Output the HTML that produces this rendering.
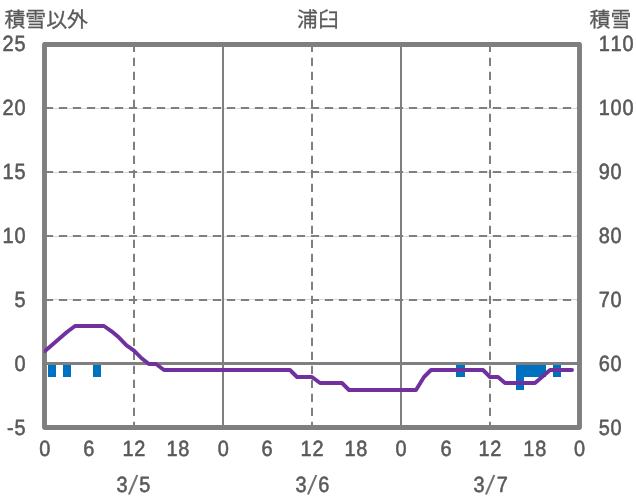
<!DOCTYPE html>
<html lang="ja">
<head>
<meta charset="utf-8">
<title>浦臼</title>
<style>
html,body{margin:0;padding:0;background:#fff;}
body{width:636px;height:501px;overflow:hidden;}
svg{display:block;}
text{text-rendering:geometricPrecision;font-kerning:none;font-family:"Liberation Sans", "Noto Sans CJK JP", sans-serif;font-size:21.33px;fill:#595959;stroke:#595959;stroke-width:0.55px;stroke-linejoin:round;}
.cjk{font-family:"Liberation Sans", "Noto Sans CJK JP", sans-serif;}
text.c{stroke-width:0.3px;text-rendering:auto;}
.sl{stroke-width:0;fill-opacity:0.85;}
</style>
</head>
<body>
<svg width="636" height="501" viewBox="0 0 636 501">
<defs><clipPath id="pc"><rect x="44" y="40" width="540" height="392"/></clipPath></defs>
<rect x="0" y="0" width="636" height="501" fill="#ffffff"/>

<g stroke="#d9d9d9" stroke-width="1" fill="none">
<line x1="44.5" y1="108.5" x2="579.5" y2="108.5"/>
<line x1="44.5" y1="172.5" x2="579.5" y2="172.5"/>
<line x1="44.5" y1="236.5" x2="579.5" y2="236.5"/>
<line x1="44.5" y1="299.5" x2="579.5" y2="299.5"/>
</g>
<g stroke="#7f7f7f" stroke-width="2" fill="none" stroke-dasharray="8.2 5.8">
<line x1="44.9" y1="108" x2="579.5" y2="108"/>
<line x1="44.9" y1="172" x2="579.5" y2="172"/>
<line x1="44.9" y1="236" x2="579.5" y2="236"/>
<line x1="44.9" y1="300" x2="579.5" y2="300"/>
<line x1="134" y1="43.8" x2="134" y2="427.3"/>
<line x1="312" y1="43.8" x2="312" y2="427.3"/>
<line x1="490" y1="43.8" x2="490" y2="427.3"/>
</g>
<g stroke="#7f7f7f" stroke-width="2" fill="none">
<line x1="223" y1="44.4" x2="223" y2="427.3"/>
<line x1="401" y1="44.4" x2="401" y2="427.3"/>
</g>
<g fill="#0070c0"><rect x="48" y="363" width="8" height="14"/><rect x="63" y="363" width="8" height="14"/><rect x="93" y="363" width="8" height="14"/><rect x="456" y="363" width="9" height="14"/><rect x="516" y="363" width="8" height="27"/><rect x="524" y="363" width="22" height="14"/><rect x="553" y="363" width="8" height="14"/></g>
<line x1="44.5" y1="363.48" x2="579.5" y2="363.48" stroke="#7f7f7f" stroke-width="2.8"/>
<rect x="44.5" y="44.5" width="535" height="383" fill="none" stroke="#7f7f7f" stroke-width="4.9" stroke-linejoin="round"/>
<polyline points="45,351 52,345 60,338 67,332 75,326 82,326 89,326 97,326 104,326 111.6,331.3 119,337.6 126.5,345.3 134,350.6 141.3,358 148.9,364 156,364 164,370 171,370 178,370 186,370 193,370 201,370 208,370 216,370 223,370 230,370 238,370 245,370 253,370 260,370 268,370 275,370 282,370 290,370 297,377 305,377 312,377 320,383 327,383 334,383 342,383 349,390 357,390 364,390 372,390 379,390 386,390 394,390 401,390 409,390 416,390 424,377 431,370 438,370 446,370 453,370 461,370 468,370 476,370 483,370 490,377 498,377 505,383 513,383 520,383 528,383 535,383 542,377 550,370 557,370 565,370 572,370" fill="none" stroke="#7030a0" stroke-width="3.9" stroke-linejoin="round" stroke-linecap="round" clip-path="url(#pc)"/>
<text class="c" transform="translate(4.4,27) scale(0.98,0.975)" text-anchor="start">積雪以外</text>
<text class="c" transform="translate(318.0,27) scale(0.98,0.975)" text-anchor="middle">浦臼</text>
<text class="c" transform="translate(631.3,27) scale(0.98,0.975)" text-anchor="end">積雪</text>
<text class="n" transform="translate(26.30,51.00) scale(0.935,1.03)" text-anchor="end" style="letter-spacing:0.8px">25</text>
<text class="n" transform="translate(26.30,115.00) scale(0.935,1.03)" text-anchor="end" style="letter-spacing:0.8px">20</text>
<text class="n" transform="translate(26.30,179.00) scale(0.935,1.03)" text-anchor="end" style="letter-spacing:0.8px">15</text>
<text class="n" transform="translate(26.30,243.00) scale(0.935,1.03)" text-anchor="end" style="letter-spacing:0.8px">10</text>
<text class="n" transform="translate(25.55,307.00) scale(0.935,1.03)" text-anchor="end">5</text>
<text class="n" transform="translate(25.55,371.00) scale(0.935,1.03)" text-anchor="end">0</text>
<text class="n" transform="translate(26.30,435.00) scale(0.935,1.03)" text-anchor="end" style="letter-spacing:0.8px">-5</text>
<text class="n" transform="translate(598.70,51.00) scale(0.935,1.03)" text-anchor="start" style="letter-spacing:0.8px">110</text>
<text class="n" transform="translate(598.70,115.00) scale(0.935,1.03)" text-anchor="start" style="letter-spacing:0.8px">100</text>
<text class="n" transform="translate(598.70,179.00) scale(0.935,1.03)" text-anchor="start" style="letter-spacing:0.8px">90</text>
<text class="n" transform="translate(598.70,243.00) scale(0.935,1.03)" text-anchor="start" style="letter-spacing:0.8px">80</text>
<text class="n" transform="translate(598.70,307.00) scale(0.935,1.03)" text-anchor="start" style="letter-spacing:0.8px">70</text>
<text class="n" transform="translate(598.70,371.00) scale(0.935,1.03)" text-anchor="start" style="letter-spacing:0.8px">60</text>
<text class="n" transform="translate(598.70,435.00) scale(0.935,1.03)" text-anchor="start" style="letter-spacing:0.8px">50</text>
<text class="n" transform="translate(44.90,456.00) scale(0.935,1.03)" text-anchor="middle">0</text>
<text class="n" transform="translate(88.68,456.00) scale(0.935,1.03)" text-anchor="middle">6</text>
<text class="n" transform="translate(134.24,456.00) scale(0.935,1.03)" text-anchor="middle" style="letter-spacing:0.8px">12</text>
<text class="n" transform="translate(178.22,456.00) scale(0.935,1.03)" text-anchor="middle" style="letter-spacing:0.8px">18</text>
<text class="n" transform="translate(223.23,456.00) scale(0.935,1.03)" text-anchor="middle">0</text>
<text class="n" transform="translate(267.02,456.00) scale(0.935,1.03)" text-anchor="middle">6</text>
<text class="n" transform="translate(312.37,456.00) scale(0.935,1.03)" text-anchor="middle" style="letter-spacing:0.8px">12</text>
<text class="n" transform="translate(356.36,456.00) scale(0.935,1.03)" text-anchor="middle" style="letter-spacing:0.8px">18</text>
<text class="n" transform="translate(401.17,456.00) scale(0.935,1.03)" text-anchor="middle">0</text>
<text class="n" transform="translate(446.15,456.00) scale(0.935,1.03)" text-anchor="middle">6</text>
<text class="n" transform="translate(490.31,456.00) scale(0.935,1.03)" text-anchor="middle" style="letter-spacing:0.8px">12</text>
<text class="n" transform="translate(535.19,456.00) scale(0.935,1.03)" text-anchor="middle" style="letter-spacing:0.8px">18</text>
<text class="n" transform="translate(579.50,456.00) scale(0.935,1.03)" text-anchor="middle">0</text>
<text class="n" transform="translate(133.67,492) scale(0.935,1.03)"><tspan x="-18.47" y="0">3</tspan><tspan class="sl" x="-6.10" y="1.84" font-size="27.5" rotate="10">/</tspan><tspan x="5.91" y="0" rotate="0">5</tspan></text>
<text class="n" transform="translate(312.7,492) scale(0.935,1.03)"><tspan x="-18.47" y="0">3</tspan><tspan class="sl" x="-6.10" y="1.84" font-size="27.5" rotate="10">/</tspan><tspan x="5.91" y="0" rotate="0">6</tspan></text>
<text class="n" transform="translate(490.68,492) scale(0.935,1.03)"><tspan x="-18.47" y="0">3</tspan><tspan class="sl" x="-6.10" y="1.84" font-size="27.5" rotate="10">/</tspan><tspan x="6.63" y="0" rotate="0">7</tspan></text>
</svg>
</body>
</html>
